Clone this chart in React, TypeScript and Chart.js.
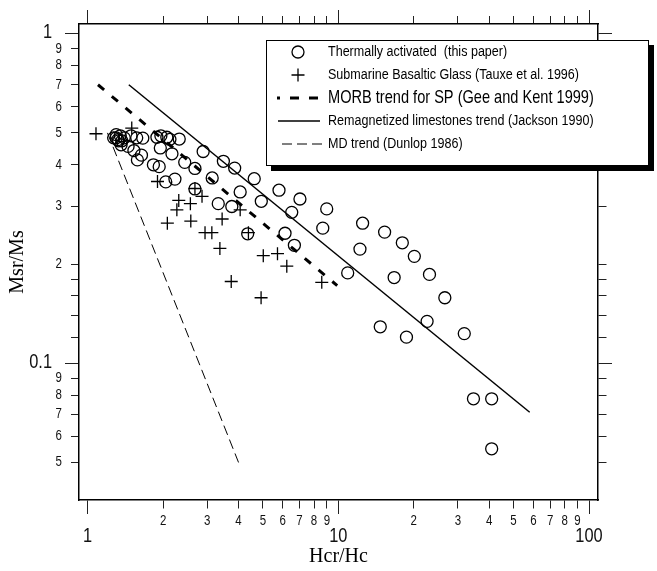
import React, { useEffect, useRef } from 'react';
import { Chart, registerables } from 'chart.js';

Chart.register(...registerables);

// ---- data ----
const THERMAL_X = [1.27, 1.30, 1.30, 1.32, 1.33, 1.35, 1.37, 1.40, 1.36, 1.45, 1.49, 1.57, 1.66, 1.53, 1.64, 1.58, 1.89, 1.96, 1.95, 2.07, 2.13, 2.32, 2.17, 1.83, 1.93, 2.05, 2.23, 2.44, 2.68, 2.89, 3.14, 3.48, 3.86, 2.68, 3.32, 3.76, 4.06, 4.62, 4.93, 5.80, 4.35, 7.03, 6.52, 8.99, 6.13, 8.67, 6.68, 12.5, 15.3, 18.0, 20.1, 12.2, 23.1, 10.9, 16.7, 26.6, 22.6, 14.7, 18.7, 31.8, 34.6, 40.9, 40.9];
const THERMAL_Y = [0.483, 0.494, 0.483, 0.477, 0.473, 0.490, 0.473, 0.483, 0.460, 0.455, 0.490, 0.483, 0.482, 0.442, 0.428, 0.414, 0.485, 0.490, 0.450, 0.485, 0.478, 0.479, 0.432, 0.400, 0.395, 0.355, 0.362, 0.407, 0.390, 0.439, 0.365, 0.410, 0.391, 0.338, 0.305, 0.299, 0.331, 0.363, 0.310, 0.335, 0.247, 0.315, 0.287, 0.294, 0.248, 0.257, 0.228, 0.266, 0.250, 0.232, 0.211, 0.222, 0.186, 0.188, 0.182, 0.158, 0.134, 0.129, 0.120, 0.123, 0.078, 0.078, 0.055];

const GLASS_X = [1.08, 1.50, 1.90, 2.31, 2.27, 2.57, 2.86, 2.68, 2.08, 2.58, 3.44, 2.94, 3.13, 4.06, 4.38, 3.37, 5.02, 5.72, 6.23, 8.59, 3.74, 4.92];
const GLASS_Y = [0.497, 0.517, 0.356, 0.312, 0.292, 0.305, 0.321, 0.339, 0.266, 0.270, 0.274, 0.249, 0.249, 0.292, 0.249, 0.223, 0.212, 0.215, 0.197, 0.176, 0.177, 0.158];

const MORB_X = [1.1, 9.9];
const MORB_Y = [0.70, 0.172];
const REMAG_X = [1.46, 58];
const REMAG_Y = [0.70, 0.071];
const MD_X = [1.2, 4.0];
const MD_Y = [0.5, 0.05];

const X_TICKS = [1, 2, 3, 4, 5, 6, 7, 8, 9, 10, 20, 30, 40, 50, 60, 70, 80, 90, 100];
const X_LABELS = ['1', '2', '3', '4', '5', '6', '7', '8', '9', '10', '2', '3', '4', '5', '6', '7', '8', '9', '100'];
const X_MAJOR = [1, 10, 100];
const Y_TICKS = [1, 0.9, 0.8, 0.7, 0.6, 0.5, 0.4, 0.3, 0.2, 0.18, 0.16, 0.14, 0.12, 0.1, 0.09, 0.08, 0.07, 0.06, 0.05];
const Y_LABELS = ['1', '9', '8', '7', '6', '5', '4', '3', '2', '', '', '', '', '0.1', '9', '8', '7', '6', '5'];
const Y_MAJOR = [1, 0.1];

const X_RANGE = [0.924, 108.6];
const Y_RANGE = [0.03846, 1.07];

const LEGEND_LABELS = [
  'Thermally activated  (this paper)',
  'Submarine Basaltic Glass (Tauxe et al. 1996)',
  'MORB trend for SP (Gee and Kent 1999)',
  'Remagnetized limestones trend (Jackson 1990)',
  'MD trend (Dunlop 1986)',
];

const X_TITLE = 'Hcr/Hc';
const Y_TITLE = 'Msr/Ms';

const SANS = '"Liberation Sans", Arial, Helvetica, sans-serif';
const SERIF = '"Liberation Serif", "Times New Roman", serif';
const CONDENSE = 0.82;

const pts = (xs: number[], ys: number[]) => xs.map((x, i) => ({ x, y: ys[i] }));
const isMajorX = (v: any) => X_MAJOR.includes(v);
const isMajorY = (v: any) => Y_MAJOR.includes(v);

function condensedText(
  ctx: CanvasRenderingContext2D,
  text: string,
  x: number,
  y: number,
  size: number,
  align: CanvasTextAlign,
) {
  ctx.save();
  ctx.translate(x, y);
  ctx.scale(CONDENSE, 1);
  ctx.font = `${size}px ${SANS}`;
  ctx.textAlign = align;
  ctx.textBaseline = 'middle';
  ctx.fillText(text, 0, 0);
  ctx.restore();
}

// tick labels in a condensed Helvetica-like face, placed through the chart's own scales
const tickLabelPlugin = {
  id: 'condensedTickLabels',
  afterDraw(chart: any) {
    const ctx = chart.ctx as CanvasRenderingContext2D;
    const xs = chart.scales.x;
    const ys = chart.scales.y;
    ctx.save();
    ctx.fillStyle = '#111';
    X_TICKS.forEach((v, i) => {
      const px = xs.getPixelForValue(v);
      const major = isMajorX(v);
      condensedText(ctx, X_LABELS[i], px, xs.top + (major ? 36 : 21), major ? 20 : 14, 'center');
    });
    Y_TICKS.forEach((v, i) => {
      if (!Y_LABELS[i]) return;
      const py = ys.getPixelForValue(v);
      const major = isMajorY(v);
      condensedText(ctx, Y_LABELS[i], ys.right - (major ? 27 : 17), py + (major ? -1 : 0), major ? 20 : 14, 'right');
    });
    ctx.restore();
  },
};

const legendPlugin = {
  id: 'boxLegend',
  afterDraw(chart: any) {
    const ctx = chart.ctx as CanvasRenderingContext2D;
    const L = 266, T = 40, R = 649, B = 166;
    ctx.save();
    ctx.setLineDash([]);
    ctx.fillStyle = '#000';
    ctx.fillRect(L + 5, T + 5, R - L, B - T);
    ctx.fillStyle = '#fff';
    ctx.fillRect(L, T, R - L, B - T);
    ctx.strokeStyle = '#000';
    ctx.lineWidth = 1;
    ctx.strokeRect(L + 0.5, T + 0.5, R - L - 1, B - T - 1);

    const rows = [52, 75, 98, 121, 144];
    const sx = 298;
    ctx.lineWidth = 1.3;
    ctx.beginPath();
    ctx.arc(sx, rows[0], 6, 0, Math.PI * 2);
    ctx.stroke();
    ctx.beginPath();
    ctx.moveTo(sx - 6.5, rows[1]); ctx.lineTo(sx + 6.5, rows[1]);
    ctx.moveTo(sx, rows[1] - 6.5); ctx.lineTo(sx, rows[1] + 6.5);
    ctx.stroke();
    ctx.lineWidth = 3;
    ctx.setLineDash([9, 10]);
    ctx.lineDashOffset = 6;
    ctx.beginPath();
    ctx.moveTo(277, rows[2]); ctx.lineTo(322, rows[2]);
    ctx.stroke();
    ctx.lineDashOffset = 0;
    ctx.setLineDash([]);
    ctx.lineWidth = 1.5;
    ctx.beginPath();
    ctx.moveTo(278, rows[3]); ctx.lineTo(320, rows[3]);
    ctx.stroke();
    ctx.setLineDash([10, 5]);
    ctx.lineWidth = 1;
    ctx.beginPath();
    ctx.moveTo(282, rows[4]); ctx.lineTo(322, rows[4]);
    ctx.stroke();
    ctx.setLineDash([]);

    ctx.fillStyle = '#000';
    LEGEND_LABELS.forEach((t, i) => {
      condensedText(ctx, t, 328, rows[i], i === 2 ? 17.8 : 15.3, 'left');
    });
    ctx.restore();
  },
};

const gridBase = {
  display: true,
  drawOnChartArea: false,
  drawTicks: true,
  tickLength: 14,
  tickWidth: 1,
  tickColor: '#222',
  lineWidth: 1,
};
const border = { display: true, color: '#000', width: 1.5 };

export default function App() {
  const ref = useRef<HTMLCanvasElement | null>(null);

  useEffect(() => {
    if (!ref.current) return;
    const setXTicks = (s: any) => { s.ticks = X_TICKS.map((v) => ({ value: v })); };
    const setYTicks = (s: any) => { s.ticks = Y_TICKS.map((v) => ({ value: v })); };

    const chart = new Chart(ref.current, {
      type: 'scatter',
      data: {
        datasets: [
          {
            label: LEGEND_LABELS[0],
            data: pts(THERMAL_X, THERMAL_Y),
            pointStyle: 'circle',
            radius: 6,
            borderWidth: 1.3,
            borderColor: '#000',
            backgroundColor: 'rgba(0,0,0,0)',
          },
          {
            label: LEGEND_LABELS[1],
            data: pts(GLASS_X, GLASS_Y),
            pointStyle: 'cross',
            radius: 6.5,
            borderWidth: 1.3,
            borderColor: '#000',
            backgroundColor: '#000',
          },
          {
            label: LEGEND_LABELS[2],
            data: pts(MORB_X, MORB_Y),
            showLine: true,
            pointRadius: 0,
            borderColor: '#000',
            borderWidth: 3,
            borderDash: [8, 10],
          },
          {
            label: LEGEND_LABELS[3],
            data: pts(REMAG_X, REMAG_Y),
            showLine: true,
            pointRadius: 0,
            borderColor: '#000',
            borderWidth: 1.5,
          },
          {
            label: LEGEND_LABELS[4],
            data: pts(MD_X, MD_Y),
            showLine: true,
            pointRadius: 0,
            borderColor: '#000',
            borderWidth: 1,
            borderDash: [10, 5],
          },
        ],
      } as any,
      options: {
        responsive: false,
        animation: false,
        events: [],
        layout: { padding: 0 },
        plugins: { legend: { display: false }, tooltip: { enabled: false } },
        scales: {
          x: {
            type: 'logarithmic',
            position: 'bottom',
            min: X_RANGE[0],
            max: X_RANGE[1],
            bounds: 'data',
            afterBuildTicks: setXTicks,
            afterFit: (s: any) => { s.height = 71; },
            border,
            grid: {
              ...gridBase,
              tickBorderDash: (c: any) => (isMajorX(c.tick?.value) ? [] : [8, 100]),
            },
            ticks: { display: false, autoSkip: false, maxRotation: 0, minRotation: 0 },
            title: {
              display: true,
              text: X_TITLE,
              color: '#000',
              font: { family: SERIF, size: 20 },
              padding: { top: 0, bottom: 2 },
            },
          },
          x2: {
            type: 'logarithmic',
            position: 'top',
            min: X_RANGE[0],
            max: X_RANGE[1],
            bounds: 'data',
            afterBuildTicks: setXTicks,
            afterFit: (s: any) => { s.height = 24; },
            border,
            grid: {
              ...gridBase,
              tickBorderDash: (c: any) => (isMajorX(c.tick?.value) ? [] : [0, 6, 8, 100]),
            },
            ticks: { display: false, autoSkip: false, maxRotation: 0 },
          },
          y: {
            type: 'logarithmic',
            position: 'left',
            min: Y_RANGE[0],
            max: Y_RANGE[1],
            bounds: 'data',
            afterBuildTicks: setYTicks,
            afterFit: (s: any) => { s.width = 79; },
            border,
            grid: {
              ...gridBase,
              tickBorderDash: (c: any) => (isMajorY(c.tick?.value) ? [] : [0, 6, 8, 100]),
            },
            ticks: { display: false, autoSkip: false },
            title: {
              display: true,
              text: Y_TITLE,
              color: '#000',
              font: { family: SERIF, size: 20 },
              padding: { top: 6, bottom: 0 },
            },
          },
          y2: {
            type: 'logarithmic',
            position: 'right',
            min: Y_RANGE[0],
            max: Y_RANGE[1],
            bounds: 'data',
            afterBuildTicks: setYTicks,
            afterFit: (s: any) => { s.width = 59; },
            border,
            grid: {
              ...gridBase,
              tickBorderDash: (c: any) => (isMajorY(c.tick?.value) ? [] : [8, 100]),
            },
            ticks: { display: false, autoSkip: false },
          },
        },
      } as any,
      plugins: [tickLabelPlugin, legendPlugin],
    });
    return () => chart.destroy();
  }, []);

  return (
    <div style={{ position: 'absolute', left: 0, top: 0, width: 657, height: 571, background: '#fff' }}>
      <canvas ref={ref} width={657} height={571} style={{ display: 'block' }} />
    </div>
  );
}
